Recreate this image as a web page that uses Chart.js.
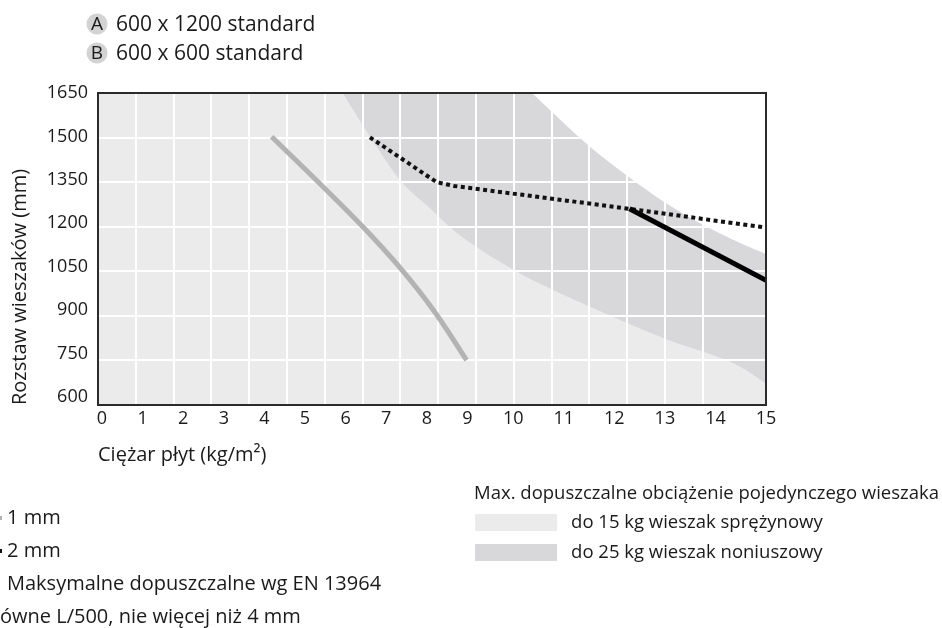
<!DOCTYPE html>
<html>
<head>
<meta charset="utf-8">
<script src="https://cdn.jsdelivr.net/npm/chart.js@4"></script>
<style>
  html, body { margin: 0; padding: 0; background: #fff; }
  #wrap { position: relative; width: 942px; height: 628px; }
</style>
</head>
<body>
<div id="wrap"><canvas id="chart" width="942" height="628"></canvas></div>
<script>
// ugięcie 1 mm (szara krzywa)
const grayX = [4.18, 5.3, 6.43, 7.38, 8.2, 8.98];
const grayY = [1499, 1346, 1187, 1040, 893, 727];

// maksymalne dopuszczalne wg EN 13964 (kropkowana)
const limitX = [6.6, 8.24, 8.67, 12.3, 15];
const limitY = [1497, 1342, 1329, 1250, 1185];

// ugięcie 2 mm (czarna)
const solidX = [12.3, 15];
const solidY = [1250, 1003];

// granice pola wieszaka noniuszowego (do 25 kg)
const band25LowX = [5.93, 6.52, 7.38, 8.08, 8.65, 10.02, 11.52, 13.02, 14.5, 15];
const band25LowY = [1650, 1517, 1343, 1252, 1177, 1038, 912, 800, 704, 646];
const band25HighX = [10.37, 11.52, 12.28, 13.02, 13.77, 14.5, 15];
const band25HighY = [1650, 1464, 1361, 1270, 1193, 1131, 1094];

const yTicks = [600, 750, 900, 1050, 1200, 1350, 1500, 1650];
const xTicks = [0, 1, 2, 3, 4, 5, 6, 7, 8, 9, 10, 11, 12, 13, 14, 15];

const FONT = "'Open Sans', 'Noto Sans', sans-serif";
const INK = '#1a1a1a';
const LIGHT = '#ebebeb';
const DARK = '#d8d8da';

const pts = (xs, ys) => xs.map((x, i) => ({ x: x, y: ys[i] }));

// oś X: przedział 0–9 jest gęstszy niż 10–15 (etykiety rozłożone równymi odstępami tekstu)
const knotValues = [-0.0985, 9, 10, 15];
const knotFractions = [0, 369.4 / 668, 415.2 / 668, 1];

function interp(v, from, to) {
  for (let i = 1; i < from.length; i++) {
    if (v <= from[i] || i === from.length - 1) {
      const t = (v - from[i - 1]) / (from[i] - from[i - 1]);
      return to[i - 1] + t * (to[i] - to[i - 1]);
    }
  }
}

class KnotScale extends Chart.LinearScale {
  getPixelForValue(value) {
    return this.getPixelForDecimal(interp(value, knotValues, knotFractions));
  }
  getValueForPixel(pixel) {
    return interp(this.getDecimalForPixel(pixel), knotFractions, knotValues);
  }
}
KnotScale.id = 'knots';
KnotScale.defaults = Chart.LinearScale.defaults;
Chart.register(KnotScale);

const plotBackground = {
  id: 'plotBackground',
  beforeDraw(chart) {
    const a = chart.chartArea, ctx = chart.ctx;
    ctx.save();
    ctx.fillStyle = '#fff';
    ctx.fillRect(0, 0, chart.width, chart.height);
    ctx.fillStyle = LIGHT;
    ctx.fillRect(a.left, a.top, a.right - a.left, a.bottom - a.top);
    ctx.restore();
  },
  // siatka ma leżeć na polach, ale pod krzywymi
  afterDatasetDraw(chart, args) {
    if (chart.data.datasets[args.index].label !== 'band25high') return;
    chart.scales.xg.drawGrid(chart.chartArea);
    chart.scales.yg.drawGrid(chart.chartArea);
  },
  afterDatasetsDraw(chart) {
    const a = chart.chartArea, ctx = chart.ctx;
    ctx.save();
    ctx.strokeStyle = '#2b2b2b';
    ctx.lineWidth = 2;
    ctx.strokeRect(a.left, a.top, a.right - a.left, a.bottom - a.top);
    ctx.restore();
  }
};

const notes = {
  id: 'notes',
  afterDraw(chart) {
    const ctx = chart.ctx;
    ctx.save();
    ctx.textBaseline = 'middle';

    // A / B
    [['A', '600 x 1200 standard', 24], ['B', '600 x 600 standard', 53]].forEach(([k, t, y]) => {
      ctx.fillStyle = '#d3d3d3';
      ctx.beginPath();
      ctx.arc(97, y, 10.5, 0, Math.PI * 2);
      ctx.fill();
      ctx.fillStyle = INK;
      ctx.font = '19px ' + FONT;
      ctx.textAlign = 'center';
      ctx.fillText(k, 97, y + 1);
      ctx.textAlign = 'left';
      ctx.font = '21px ' + FONT;
      ctx.fillText(t, 116, y + 1);
    });

    // opis linii
    ctx.fillStyle = INK;
    ctx.font = '20px ' + FONT;
    ctx.textAlign = 'left';
    ctx.fillText('1 mm', 7, 518);
    ctx.fillText('2 mm', 7, 551);
    ctx.fillText('Maksymalne dopuszczalne wg EN 13964', 7, 584);
    ctx.fillText('ówne L/500, nie więcej niż 4 mm', 0, 617);

    ctx.lineWidth = 4;
    ctx.strokeStyle = '#b3b3b3';
    ctx.beginPath(); ctx.moveTo(-20, 518); ctx.lineTo(2, 518); ctx.stroke();
    ctx.strokeStyle = '#111';
    ctx.beginPath(); ctx.moveTo(-20, 551); ctx.lineTo(2, 551); ctx.stroke();
    ctx.setLineDash([4, 4]);
    ctx.beginPath(); ctx.moveTo(-21, 584); ctx.lineTo(2, 584); ctx.stroke();
    ctx.setLineDash([]);

    // obciążenie wieszaka
    ctx.font = '18.5px ' + FONT;
    const head = 'Max. dopuszczalne obciążenie pojedynczego wieszaka';
    const left = 939 - ctx.measureText(head).width;
    ctx.fillText(head, left, 494);
    ctx.fillStyle = LIGHT;
    ctx.fillRect(left + 1, 514, 82, 17);
    ctx.fillStyle = DARK;
    ctx.fillRect(left + 1, 544, 82, 17);
    ctx.fillStyle = INK;
    ctx.fillText('do 15 kg wieszak sprężynowy', left + 97, 523);
    ctx.fillText('do 25 kg wieszak noniuszowy', left + 97, 553);
    ctx.restore();
  }
};

new Chart(document.getElementById('chart'), {
  type: 'line',
  data: {
    datasets: [
      {
        label: '1 mm',
        data: pts(grayX, grayY),
        borderColor: '#b3b3b3',
        borderWidth: 5,
        borderCapStyle: 'butt',
        pointRadius: 0,
        tension: 0.4,
        order: 3
      },
      {
        label: 'EN 13964',
        data: pts(limitX, limitY),
        borderColor: '#111',
        borderWidth: 4,
        borderDash: [4, 3.5],
        borderCapStyle: 'butt',
        pointRadius: 0,
        tension: 0,
        order: 2
      },
      {
        label: '2 mm',
        data: pts(solidX, solidY),
        borderColor: '#000',
        borderWidth: 5,
        pointRadius: 0,
        order: 1
      },
      {
        label: 'band25low',
        data: pts(band25LowX, band25LowY),
        borderWidth: 0,
        pointRadius: 0,
        fill: 'end',
        backgroundColor: DARK,
        cubicInterpolationMode: 'monotone',
        order: 11
      },
      {
        label: 'band25high',
        data: pts(band25HighX, band25HighY),
        borderWidth: 0,
        pointRadius: 0,
        fill: 'end',
        backgroundColor: '#fff',
        cubicInterpolationMode: 'monotone',
        order: 10
      }
    ]
  },
  options: {
    responsive: false,
    animation: false,
    layout: { padding: { top: 93, right: 176, bottom: 161, left: 6 } },
    plugins: {
      legend: { display: false },
      tooltip: { enabled: false }
    },
    scales: {
      x: {
        type: 'knots',
        position: 'bottom',
        min: -0.0985,
        max: 15,
        afterBuildTicks: s => { s.ticks = xTicks.map(v => ({ value: v })); },
        grid: { display: false, drawTicks: false },
        border: { display: false },
        ticks: { padding: 3, maxRotation: 0, autoSkip: false, color: INK, font: { family: FONT, size: 18 } },
        title: {
          display: true,
          text: 'Ciężar płyt (kg/m²)',
          align: 'start',
          color: INK,
          font: { family: FONT, size: 20 },
          padding: { top: 12, bottom: 0 }
        },
        afterFit: s => { s.height = 62; }
      },
      y: {
        min: 572.4,
        max: 1650,
        afterBuildTicks: s => { s.ticks = yTicks.map(v => ({ value: v })); },
        grid: { display: false, drawTicks: false },
        border: { display: false },
        ticks: {
          padding: 10,
          color: INK,
          font: { family: FONT, size: 18 },
          callback: v => String(v)
        },
        title: {
          display: true,
          text: 'Rozstaw wieszaków (mm)',
          align: 'start',
          color: INK,
          font: { family: FONT, size: 20 },
          padding: { top: 2, bottom: 0 }
        },
        afterFit: s => { s.width = 92; }
      },
      // linie siatki tła (niezależne od etykiet osi)
      xg: {
        type: 'linear',
        position: 'top',
        min: 0,
        max: 17.67,
        ticks: { display: false, stepSize: 1 },
        grid: { color: '#fff', lineWidth: 2, drawTicks: false },
        border: { display: false },
        afterFit: s => { s.height = 0; }
      },
      yg: {
        type: 'linear',
        position: 'right',
        min: 0,
        max: 7,
        ticks: { display: false, stepSize: 1 },
        grid: { color: '#fff', lineWidth: 2, drawTicks: false },
        border: { display: false },
        afterFit: s => { s.width = 0; }
      }
    }
  },
  plugins: [plotBackground, notes]
});
</script>
</body>
</html>
